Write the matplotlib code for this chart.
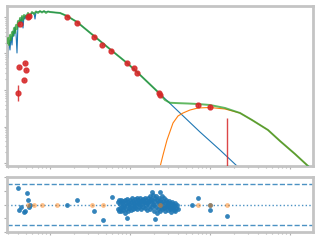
import matplotlib
matplotlib.use('Agg')
import matplotlib.pyplot as plt
import numpy as np

# log10 wavelength [um] / log10 lambda*F_lambda (normalised) of the model curves
star_logwave = [-0.5375, -0.525, -0.5125, -0.5, -0.4875, -0.475, -0.4625, -0.45, -0.4375, -0.425,
                -0.4125, -0.4, -0.3875, -0.375, -0.3625, -0.35, -0.3375, -0.325, -0.3125, -0.3,
                -0.2875, -0.275, -0.25, -0.225, -0.2, -0.1875, -0.175, -0.15, -0.125, -0.1,
                -0.075, -0.05, -0.025, 0.0, 0.0625, 0.125, 0.2125, 0.3375, 0.55, 0.7625,
                0.9625, 1.0875, 1.3625, 1.625, 1.875, 2.125, 2.3375, 2.5]
star_logflux = [-0.658, -1.123, -0.630, -0.904, -0.521, -0.767, -0.384, -0.521, -0.274, -0.438,
                -0.986, -0.137, -0.274, -0.055, -0.164, 0.0, -0.301, 0.027, -0.055, 0.055,
                -0.027, 0.082, 0.055, 0.110, 0.110, -0.055, 0.137, 0.137, 0.151, 0.137,
                0.151, 0.137, 0.151, 0.137, 0.123, 0.110, 0.027, -0.137, -0.521, -0.904,
                -1.260, -1.507, -2.082, -2.630, -3.151, -3.644, -4.082, -4.411]

total_logwave = [-0.5375, -0.525, -0.5125, -0.5, -0.4875, -0.475, -0.4625, -0.45, -0.4375, -0.425,
                 -0.4125, -0.4, -0.3875, -0.375, -0.3625, -0.35, -0.3375, -0.325, -0.3, -0.275,
                 -0.25, -0.225, -0.2, -0.175, -0.15, -0.125, -0.1, -0.075, -0.05, -0.025,
                 0.0, 0.0625, 0.125, 0.2125, 0.3375, 0.55, 0.7625, 0.9625, 1.0875, 1.3625,
                 1.4375, 1.5, 1.6, 1.725, 1.85, 2.0, 2.1875, 2.375, 2.525, 2.725,
                 2.875, 3.0625, 3.225, 3.3125]
total_logflux = [-0.712, -0.575, -0.767, -0.493, -0.630, -0.411, -0.521, -0.301, -0.438, -0.219,
                 -0.329, -0.110, -0.219, -0.027, -0.137, 0.027, -0.082, 0.055, 0.0, 0.110,
                 0.027, 0.137, 0.082, 0.151, 0.110, 0.164, 0.123, 0.164, 0.110, 0.151,
                 0.137, 0.123, 0.110, 0.027, -0.137, -0.521, -0.904, -1.260, -1.507, -2.082,
                 -2.274, -2.35, -2.36, -2.37, -2.384, -2.411, -2.493, -2.630, -2.822, -3.096,
                 -3.397, -3.753, -4.082, -4.247]

dust_logwave = [1.35, 1.375, 1.4125, 1.4625, 1.5375, 1.6, 1.6625, 1.75, 1.85, 2.0,
                2.1875, 2.375, 2.525, 2.725, 2.875, 3.0625, 3.225, 3.3125]
dust_logflux = [-4.329, -4.110, -3.781, -3.370, -2.904, -2.712, -2.630, -2.548, -2.493, -2.479,
                -2.521, -2.630, -2.822, -3.096, -3.397, -3.753, -4.082, -4.247]

# photometry
phot_logwave = [-0.375, -0.275, -0.2625, 0.2125, 0.3375, 0.55, 0.65, 0.7625, 0.9625, 1.05,
                1.0875, 1.3625, 1.375, 1.85, 2.0]
phot_logflux = [-0.192, 0.0, 0.027, 0.0, -0.164, -0.548, -0.767, -0.932, -1.260, -1.397,
                -1.534, -2.082, -2.137, -2.411, -2.466]
phot_logerr = [0.02, 0.02, 0.02, 0.02, 0.02, 0.02, 0.02, 0.02, 0.02, 0.02,
               0.02, 0.03, 0.03, 0.06, 0.06]

bad_logwave = [-0.4, -0.3875, -0.325, -0.3125, -0.3]
bad_logflux = [-2.082, -1.370, -1.726, -1.260, -1.452]
bad_logerr = [0.23, 0.03, 0.03, 0.03, 0.03]

# non detection (flux zero, 1 sigma upper)
nd_wave = [163.0]
nd_flux = [0.0]
nd_err = [0.0017]

# residuals
res_logwave = [-0.4, -0.2875, -0.275, -0.3625, -0.3875, -0.325, -0.3125, -0.25, -0.2625, 0.2125,
               0.3375, 0.55, 0.775, 0.6625, 0.9625, 1.3125, 1.275, 1.375, 1.375, 1.775,
               1.85, 2.0, 2.0, 2.2125]
res_val = [2.4, 1.65, 0.6, -0.3, -0.75, -1.05, -0.9, 0.0, -0.3, 0.0,
           0.6, -0.9, 1.05, -2.25, -1.95, -2.1, 1.8, 1.8, 0.0, 0.0,
           0.9, -0.75, 0.0, -1.65]

lim_logwave = [-0.275, -0.2, -0.1, 0.0875, 0.525, 0.6625, 1.375, 1.85, 2.0, 2.2125]
lim_val = [0.0, 0.0, 0.0, 0.0, 0.0, 0.0, 0.0, 0.0, 0.0, 0.0]

irs_logwave = [0.85, 0.85, 0.8625, 0.8625, 0.875, 0.875, 0.8875, 0.8875, 0.9, 0.9,
               0.9125, 0.9125, 0.925, 0.925, 0.9375, 0.9375, 0.95, 0.95, 0.9625, 0.9625,
               0.975, 0.975, 0.9875, 0.9875, 1.0, 1.0, 1.0125, 1.0125, 1.025, 1.025,
               1.0375, 1.0375, 1.05, 1.05, 1.0625, 1.0625, 1.075, 1.075, 1.0875, 1.0875,
               1.1, 1.1, 1.1125, 1.1125, 1.125, 1.125, 1.1375, 1.1375, 1.15, 1.15,
               1.1625, 1.1625, 1.175, 1.175, 1.1875, 1.1875, 1.2, 1.2, 1.2125, 1.2125,
               1.225, 1.225, 1.2375, 1.2375, 1.25, 1.25, 1.2625, 1.2625, 1.275, 1.275,
               1.2875, 1.2875, 1.3, 1.3, 1.3125, 1.3125, 1.325, 1.325, 1.3375, 1.3375,
               1.35, 1.35, 1.3625, 1.3625, 1.375, 1.375, 1.3875, 1.3875, 1.4, 1.4,
               1.4125, 1.4125, 1.425, 1.425, 1.4375, 1.4375, 1.45, 1.45, 1.4625, 1.4625,
               1.475, 1.475, 1.4875, 1.4875, 1.5, 1.5, 1.5125, 1.5125, 1.525, 1.525,
               1.5375, 1.5375, 1.55, 1.55, 1.5625, 1.5625, 1.575, 1.5875, 1.6]
irs_resid = [0.3, -0.6, 0.6, -0.9, 0.1, -0.5, 0.7, -1.0, 0.2, -0.4,
             0.5, -0.8, 0.0, -0.3, 0.6, -1.2, 0.2, -0.6, 0.8, -0.1,
             0.4, -0.9, 0.1, -0.5, 0.7, -0.3, 0.3, -0.8, 0.9, 0.0,
             0.5, -0.6, 0.2, -0.2, 0.8, -0.5, 0.4, 0.0, 1.0, -0.7,
             0.6, 0.2, 0.3, -0.4, 0.9, -0.1, 0.5, -0.6, 0.1, 0.7,
             0.8, -0.3, 0.4, 0.3, 1.0, -0.5, 0.6, 0.0, 0.2, -0.8,
             0.9, 0.4, 0.5, -0.2, 1.2, -0.6, 0.3, 0.8, 0.7, -0.4,
             1.4, 0.1, 0.0, -0.9, 0.9, 0.5, -0.3, 1.2, 0.6, -1.2,
             0.2, -0.6, 1.0, 0.4, -0.9, 0.7, 0.3, -0.3, 1.3, -0.7,
             0.5, 0.0, -0.5, 0.9, 0.2, -1.0, 0.7, -0.4, -0.2, 0.4,
             0.1, -0.8, 0.5, -0.3, -0.6, 0.2, 0.0, -1.1, 0.4, -0.5,
             -0.3, 0.1, -0.8, -0.2, 0.2, -1.0, -0.5, -0.1, -0.7]

spine_col = '#c4c4c4'
tick_col = '#b0b0b0'

fig = plt.figure(figsize=(3.2, 2.4), dpi=100)
ax = fig.add_axes([7/320, 1-166/240, 306/320, 160/240])
axr = fig.add_axes([7/320, 1-232/240, 306/320, 55/240], sharex=ax)

# SED panel
ax.plot(10**np.array(star_logwave), 10**np.array(star_logflux), color='tab:blue', lw=0.8, zorder=2)
ax.plot(10**np.array(dust_logwave), 10**np.array(dust_logflux), color='tab:orange', lw=0.8, zorder=2)
ax.plot(10**np.array(total_logwave), 10**np.array(total_logflux), color='tab:green', lw=1.4,
        alpha=0.75, zorder=3)

pw = 10**np.array(phot_logwave)
pf = 10**np.array(phot_logflux)
pe = np.array(phot_logerr)
ax.errorbar(pw, pf, yerr=[pf - 10**(np.log10(pf) - pe), 10**(np.log10(pf) + pe) - pf],
            fmt='o', color='tab:red', ms=3.5, alpha=0.85, elinewidth=1, zorder=4)
bw = 10**np.array(bad_logwave)
bf = 10**np.array(bad_logflux)
be = np.array(bad_logerr)
ax.errorbar(bw, bf, yerr=[bf - 10**(np.log10(bf) - be), 10**(np.log10(bf) + be) - bf],
            fmt='o', color='tab:red', ms=3.5, alpha=0.85, elinewidth=1, zorder=4)
ax.errorbar(nd_wave, nd_flux, yerr=[[0.0017], nd_err], fmt='none', ecolor='tab:red',
            elinewidth=1, alpha=0.85, zorder=4)

ax.set_xscale('log')
ax.set_yscale('log')
ax.set_xlim(10**-0.5375, 10**3.2875)
ax.set_ylim(10**-4.082, 10**0.301)

# residual panel
axr.axhline(0, color='tab:blue', ls=':', lw=1, alpha=0.8)
axr.axhline(3, color='tab:blue', ls='--', lw=1, alpha=0.8)
axr.axhline(-3, color='tab:blue', ls='--', lw=1, alpha=0.8)
axr.scatter(10**np.array(irs_logwave), irs_resid, s=12, color='tab:blue', alpha=0.9,
            lw=0, zorder=3)
axr.scatter(10**np.array(res_logwave), res_val, s=12, color='tab:blue', alpha=0.9,
            lw=0, zorder=3)
axr.scatter(10**np.array(lim_logwave), lim_val, s=12, color='tab:orange', alpha=0.5,
            lw=0, zorder=4)
axr.set_ylim(-4, 4)
axr.set_yticks([-4, -2, 0, 2, 4])

for a in (ax, axr):
    for s in a.spines.values():
        s.set_color(spine_col)
        s.set_linewidth(2)
    a.tick_params(which='both', colors=tick_col, labelleft=False, labelbottom=False,
                  length=2.5, width=0.8)
    a.tick_params(which='minor', length=1.5)

fig.savefig('out.png', dpi=100)
